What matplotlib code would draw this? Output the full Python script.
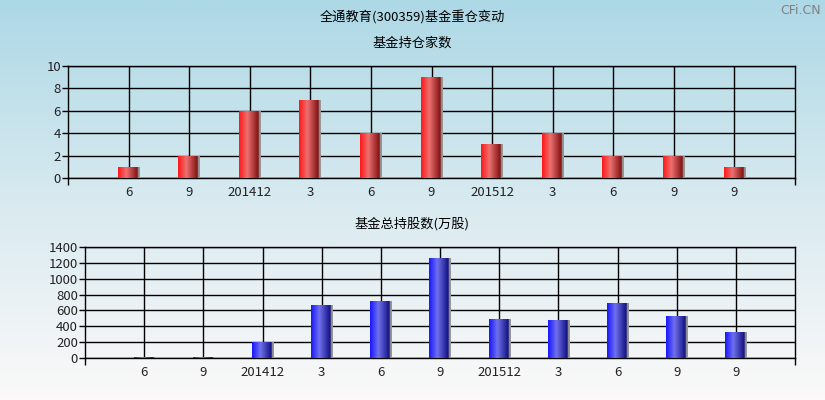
import numpy as np
import matplotlib
matplotlib.use("Agg")
import matplotlib.pyplot as plt
from matplotlib.colors import LinearSegmentedColormap

plt.rcParams['font.family'] = ['Noto Sans CJK SC', 'DejaVu Sans']

categories = ['6', '9', '201412', '3', '6', '9', '201512', '3', '6', '9', '9']
fund_counts = [1, 2, 6, 7, 4, 9, 3, 4, 2, 2, 1]
fund_shares = [15, 15, 205, 672, 722, 1264, 495, 483, 697, 533, 332]

title = '全通教育(300359)基金重仓变动'
sub1 = '基金持仓家数'
sub2 = '基金总持股数(万股)'

W, H = 825, 400
fig = plt.figure(figsize=(W / 100, H / 100), dpi=100)

# background gradient
bg = fig.add_axes([0, 0, 1, 1], zorder=-10)
grad = np.linspace(0, 1, 256).reshape(-1, 1)
bg_cmap = LinearSegmentedColormap.from_list('bg', ['#add8e6', '#d8eaf0', '#fbf9f9'])
bg.imshow(grad, aspect='auto', cmap=bg_cmap, extent=[0, 1, 0, 1], origin='upper')
bg.set_axis_off()

red_cmap = LinearSegmentedColormap.from_list('r', [(0, '#ff1818'), (0.38, '#ec7070'), (0.9, '#801010'), (0.91, '#8a8a8a'), (1.0, '#9a9a9a')])
blue_cmap = LinearSegmentedColormap.from_list('b', [(0, '#1818ff'), (0.38, '#7070ec'), (0.9, '#101080'), (0.91, '#8a8a8a'), (1.0, '#9a9a9a')])


def px_axes(x0, y0, x1, y1):
    return fig.add_axes([x0 / W, 1 - y1 / H, (x1 - x0) / W, (y1 - y0) / H])


def draw(ax, values, cmap, ymax, ystep):
    n = len(values)
    x = np.arange(1, n + 1)
    ax.set_xlim(0, n + 1)
    ax.set_ylim(0, ymax)
    ax.patch.set_alpha(0)
    bars = ax.bar(x, values, width=0.36, color='none', zorder=3)
    gimg = np.linspace(0, 1, 64).reshape(1, -1)
    for b in bars:
        x0 = b.get_x(); w = b.get_width(); h = b.get_height()
        if h <= 0:
            continue
        im = ax.imshow(gimg, cmap=cmap, aspect='auto', extent=[x0, x0 + w, 0, h], zorder=3, interpolation='bilinear')
        im.set_clip_path(b)
    ax.set_xlim(0, n + 1)
    ax.set_ylim(0, ymax)
    ax.set_yticks(np.arange(0, ymax + 1, ystep))
    ax.set_xticks(x)
    ax.set_xticklabels(categories)
    ax.set_xticks([0, n + 1], minor=True)
    ax.grid(True, color='black', linewidth=1, zorder=1)
    ax.set_axisbelow(True)
    for s in ax.spines.values():
        s.set_color('black')
        s.set_linewidth(1)
    ax.tick_params(axis='x', which='major', length=0, pad=6, labelsize=9.5, colors='#222222')
    ax.tick_params(axis='x', which='minor', length=5, width=1, color='black')
    ax.tick_params(axis='y', length=4, width=1, pad=1, labelsize=9.5, colors='black', labelcolor='#222222')


ax1 = px_axes(68, 66, 795, 178)
draw(ax1, fund_counts, red_cmap, 10, 2)
ax2 = px_axes(85, 247, 795, 358)
draw(ax2, fund_shares, blue_cmap, 1400, 200)

fig.text(412 / W, 1 - 18 / H, title, ha='center', va='center', fontsize=9.5, color='black')
fig.text(412 / W, 1 - 43 / H, sub1, ha='center', va='center', fontsize=9.5, color='black')
fig.text(412 / W, 1 - 224 / H, sub2, ha='center', va='center', fontsize=9.5, color='black')
fig.text(821 / W, 1 - 10 / H, 'CFi.CN', ha='right', va='center', fontsize=9, color='#808080', family=['DejaVu Sans'])

fig.savefig('out.png', dpi=100)
